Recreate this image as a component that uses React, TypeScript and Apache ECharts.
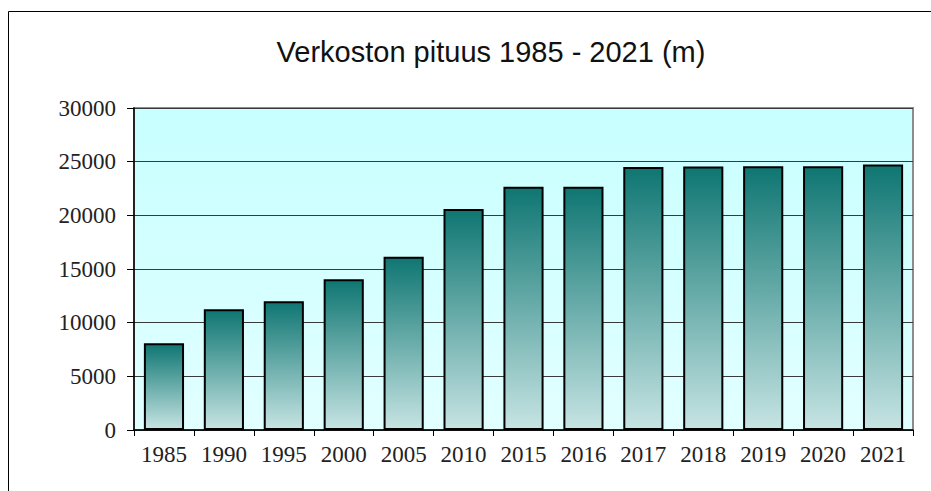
import React, { useEffect, useRef } from "react";
import * as echarts from "echarts";

const categories = ["1985", "1990", "1995", "2000", "2005", "2010", "2015", "2016", "2017", "2018", "2019", "2020", "2021"];
const lengths = [8080, 11250, 12000, 14050, 16150, 20600, 22670, 22670, 24500, 24560, 24580, 24580, 24730];
const titleText = "Verkoston pituus 1985 - 2021 (m)";

export default function App() {
  const ref = useRef<HTMLDivElement>(null);
  useEffect(() => {
    if (!ref.current) return;
    const chart = echarts.init(ref.current, undefined, { renderer: "svg" });
    chart.setOption({
      animation: false,
      backgroundColor: "#ffffff",
      title: {
        text: titleText,
        left: 486,
        textAlign: "center",
        top: 32,
        textStyle: { fontFamily: "Liberation Sans, Arial, sans-serif", fontSize: 29, fontWeight: "normal", color: "#111" },
      },
      graphic: [
        { type: "line", shape: { x1: 8.5, y1: 11.5, x2: 931, y2: 11.5 }, style: { stroke: "#000", lineWidth: 1 } },
        { type: "line", shape: { x1: 8.5, y1: 11.5, x2: 8.5, y2: 491 }, style: { stroke: "#000", lineWidth: 1 } },
      ],
      grid: {
        left: 134,
        top: 108,
        right: 18,
        bottom: 61,
        show: true,
        borderColor: "#8c8c8c",
        borderWidth: 2,
        backgroundColor: new echarts.graphic.LinearGradient(0, 0, 0, 1, [
          { offset: 0, color: "#c8ffff" },
          { offset: 1, color: "#e2ffff" },
        ]),
      },
      xAxis: {
        type: "category",
        data: categories,
        axisLine: { lineStyle: { color: "#000", width: 1.5 } },
        axisTick: { show: true, length: 6, lineStyle: { color: "#000" } },
        axisLabel: { color: "#222", fontFamily: "Liberation Serif, serif", fontSize: 23, margin: 13 },
      },
      yAxis: {
        type: "value",
        min: 0,
        max: 30000,
        interval: 5000,
        axisLine: { show: true, lineStyle: { color: "#000", width: 1.5 } },
        axisTick: { show: true, length: 7, lineStyle: { color: "#000" } },
        axisLabel: {
          color: "#222",
          fontFamily: "Liberation Serif, serif",
          fontSize: 23,
          margin: 18,
          formatter: (v: number) => String(v),
        },
        splitLine: { show: true, lineStyle: { color: "#3a3a3a", width: 1 } },
      },
      series: [
        {
          type: "bar",
          data: lengths,
          barCategoryGap: "33%",
          itemStyle: {
            borderColor: "#000",
            borderWidth: 2,
            color: new echarts.graphic.LinearGradient(0, 0, 0, 1, [
              { offset: 0, color: "#0f7672" },
              { offset: 1, color: "#c6e4e3" },
            ]),
          },
        },
      ],
    });
    return () => chart.dispose();
  }, []);
  return <div ref={ref} style={{ position: "fixed", left: 0, top: 0, width: 931, height: 491 }} />;
}
